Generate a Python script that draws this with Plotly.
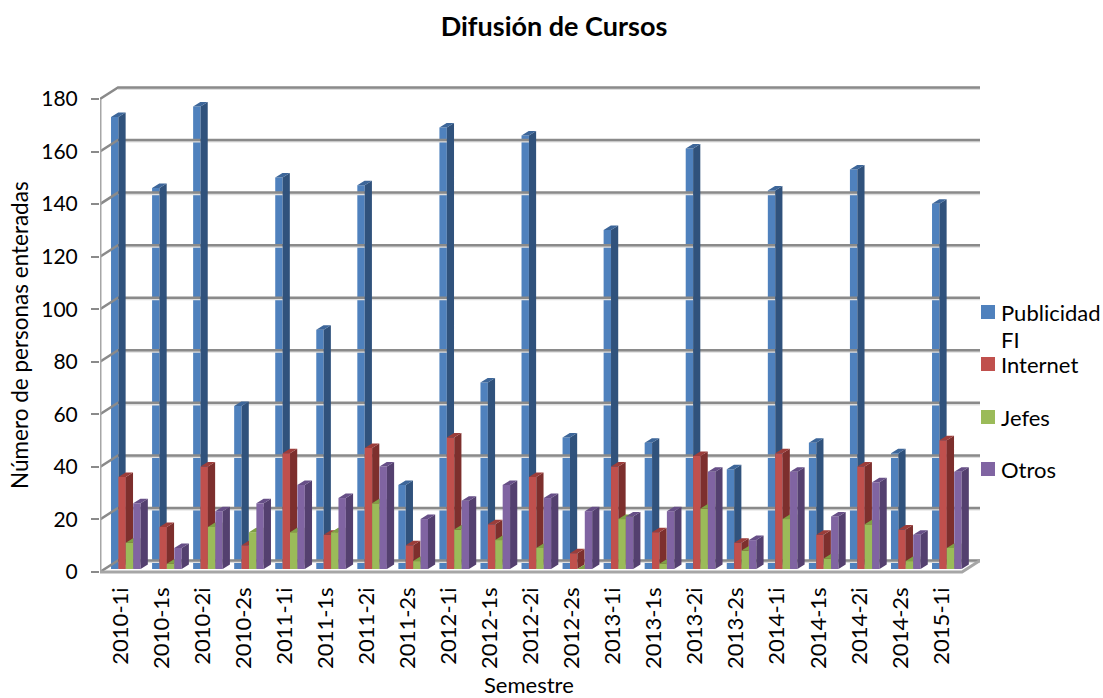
import plotly.graph_objects as go

TITLE = "Difusión de Cursos"
X_TITLE = "Semestre"
Y_TITLE = "Número de personas enteradas"
semesters = ["2010-1i","2010-1s","2010-2i","2010-2s","2011-1i","2011-1s","2011-2i","2011-2s",
             "2012-1i","2012-1s","2012-2i","2012-2s","2013-1i","2013-1s","2013-2i","2013-2s",
             "2014-1i","2014-1s","2014-2i","2014-2s","2015-1i"]
publicidad = [172,145,176,62,149,91,146,32,168,71,165,50,129,48,160,38,144,48,152,44,139]
internet = [35,16,39,9,44,13,46,9,50,17,35,6,39,14,43,10,44,13,39,15,49]
jefes = [10,2,16,14,14,14,25,3,15,11,8,0,19,2,23,7,19,4,17,3,8]
otros = [25,8,22,25,32,27,39,19,26,32,27,22,20,22,37,11,37,20,33,13,37]
y_ticks = [0,20,40,60,80,100,120,140,160,180]

series = [
    ("Publicidad FI", publicidad, "#4F81BD", "#30527C", "#3D6699"),
    ("Internet", internet, "#C0504D", "#7D2F2D", "#9C3D3A"),
    ("Jefes", jefes, "#9BBB59", "#6F8C3A", "#80A045"),
    ("Otros", otros, "#8064A2", "#54406F", "#674F87"),
]

# frame in page pixels (the page margin is removed when the file is written)
W, H = 1103, 698
L, R, T, B = 100, 980, 86, 574
SCALE_Y = 2.628
CAT = 41.05
x_range = [-0.5, -0.5 + (R - L) / CAT]
y_range = [(572 - B) / SCALE_Y, (572 - T) / SCALE_Y]
wall_dx, wall_dy = 18 / CAT, 11.5 / SCALE_Y
bar_w, bar_first = 7.4 / CAT, -9.5 / CAT
side_dx, side_dy = 7.2 / CAT, 4.5 / SCALE_Y
base = 3 / SCALE_Y

fig = go.Figure()
x_right = len(semesters) - 0.5

# shadows and grid of the 3D walls
gx, gy, sx, sy = [], [], [], []
for v in y_ticks:
    gx += [-0.5, -0.5 + wall_dx, x_range[1], None]
    gy += [v, v + wall_dy, v + wall_dy, None]
    sx += [-0.5 + wall_dx, x_range[1], None]
    sy += [v + wall_dy - 0.6, v + wall_dy - 0.6, None]
fig.add_trace(go.Scatter(x=sx, y=sy, mode="lines", line=dict(color="#DEDEDE", width=2),
                         hoverinfo="skip", showlegend=False, cliponaxis=False))
fig.add_trace(go.Scatter(x=gx, y=gy, mode="lines", line=dict(color="#8A8A8A", width=2.5),
                         hoverinfo="skip", showlegend=False, cliponaxis=False))
fig.add_trace(go.Scatter(
    x=[-0.5, -0.5, None, -0.5, x_right, x_range[1]],
    y=[0, y_ticks[-1], None, 0, 0, wall_dy],
    mode="lines", line=dict(color="#A6A6A6", width=3),
    hoverinfo="skip", showlegend=False, cliponaxis=False))

for k, (name, vals, front, side, top) in enumerate(series):
    suffix = "" if k == 0 else str(k + 1)
    left = bar_first + k * bar_w
    xs = list(range(len(semesters)))
    fig.add_trace(go.Bar(x=xs, y=vals, base=base, width=bar_w, offset=left, name=name,
                         marker=dict(color=front, line=dict(width=0)),
                         showlegend=False, xaxis="x" + suffix, yaxis="y" + suffix))
    px, py, tx, ty = [], [], [], []
    for i, v in zip(xs, vals):
        a, b = i + left, i + left + bar_w
        px += [b, b + side_dx, b + side_dx, b, b, None]
        py += [base, base + side_dy, base + v + side_dy, base + v, base, None]
        tx += [a, a + side_dx, b + side_dx, b, a, None]
        ty += [base + v, base + v + side_dy, base + v + side_dy, base + v, base + v, None]
    for fx, fy, col in ((px, py, side), (tx, ty, top)):
        fig.add_trace(go.Scatter(x=fx, y=fy, mode="lines", fill="toself", fillcolor=col,
                                 line=dict(width=0, color=col), hoverinfo="skip",
                                 showlegend=False, xaxis="x" + suffix, yaxis="y" + suffix))

FONT = "Lato, Carlito, sans-serif"


def px_x(p):
    return (p - L) / (R - L)


def px_y(p):
    return (B - p) / (B - T)


layout = dict(
    width=W, height=H, autosize=False,
    margin=dict(l=L, r=W - R, t=T, b=H - B, pad=0),
    paper_bgcolor="white", plot_bgcolor="white",
    font=dict(family=FONT, size=21, color="#000000"),
    barmode="overlay", showlegend=False,
    title=dict(text="<b>" + TITLE + "</b>", x=px_x(554), xanchor="center", xref="paper",
               y=1 - 27 / H, yanchor="middle", yref="container",
               font=dict(size=27, family=FONT, color="#000000")),
    xaxis=dict(range=x_range, tickmode="array", tickvals=list(range(len(semesters))),
               ticktext=semesters, tickangle=-90, ticks="", showgrid=False, zeroline=False,
               showline=False, tickfont=dict(size=22, family=FONT), ticklabelstandoff=8,
               automargin=False),
    yaxis=dict(range=y_range, tickmode="array", tickvals=y_ticks, ticks="outside", ticklen=8,
               tickwidth=1.5, tickcolor="#8A8A8A", showgrid=False, zeroline=False, showline=False,
               tickfont=dict(size=21, family=FONT), ticklabelstandoff=9, automargin=False),
)
for k in range(2, 5):
    layout[f"xaxis{k}"] = dict(range=x_range, overlaying="x", visible=False)
    layout[f"yaxis{k}"] = dict(range=y_range, overlaying="y", visible=False)
fig.update_layout(**layout)

ann = []
shapes = []
legend_rows = [("Publicidad", 312, "#4F81BD"), ("Internet", 364, "#C0504D"),
               ("Jefes", 417, "#9BBB59"), ("Otros", 469, "#8064A2")]
for text, cy, col in legend_rows:
    shapes.append(dict(type="rect", xref="paper", yref="paper", x0=px_x(981), x1=px_x(995),
                       y0=px_y(cy - 7), y1=px_y(cy + 7), fillcolor=col, line=dict(width=0)))
    ann.append(dict(text=text, x=px_x(999), y=px_y(cy), xref="paper", yref="paper",
                    xanchor="left", yanchor="middle", showarrow=False, font=dict(size=22)))
ann.append(dict(text="FI", x=px_x(999), y=px_y(339), xref="paper", yref="paper",
                xanchor="left", yanchor="middle", showarrow=False, font=dict(size=22)))
ann.append(dict(text=X_TITLE, x=px_x(529), y=px_y(684), xref="paper", yref="paper",
                xanchor="center", yanchor="middle", showarrow=False, font=dict(size=22)))
ann.append(dict(text=Y_TITLE, x=px_x(19), y=px_y(335), xref="paper", yref="paper", textangle=-90,
                xanchor="center", yanchor="middle", showarrow=False, font=dict(size=22.5)))
fig.update_layout(annotations=ann, shapes=shapes)

fig.write_html("out.html", config={"displayModeBar": False},
               post_script="document.body.style.margin='0';")
